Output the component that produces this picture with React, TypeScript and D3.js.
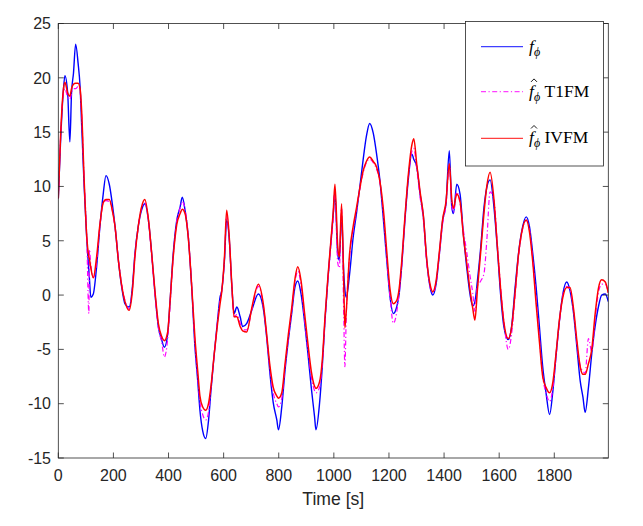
import React from "react";
import * as d3 from "d3";

const times = [0,8,18,24,34,42,48,55,63,72,79,85,94,103,111,113,118,127,139,151,163,173,185,196,206,218,230,242,257,269,278,290,302,314,327,339,351,363,375,385,397,405,417,430,442,450,460,472,484,496,506,514,524,535,545,554,566,578,587,593,603,611,620,630,638,648,660,669,684,702,726,745,757,768,780,793,799,811,823,835,847,859,869,881,893,906,918,930,935,948,958,968,978,986,998,1004,1014,1020,1028,1036,1040,1045,1057,1070,1082,1094,1106,1118,1130,1143,1155,1167,1180,1192,1204,1216,1228,1237,1246,1258,1270,1283,1290,1301,1313,1325,1337,1349,1359,1371,1383,1395,1407,1419,1428,1434,1446,1458,1470,1482,1494,1504,1512,1521,1533,1545,1555,1567,1581,1593,1605,1617,1633,1645,1658,1670,1682,1698,1710,1722,1734,1746,1758,1770,1783,1795,1807,1819,1831,1845,1857,1870,1882,1894,1904,1912,1924,1936,1948,1960,1972,1985,1996];

const fPhi = [8.9,14.0,18.7,20.2,18.6,14.1,18.6,20.4,23.1,21.3,19.2,15.5,9.9,5.3,2.2,1.5,-0.2,0.1,2.6,6.3,9.3,11.0,10.2,8.4,6.3,3.2,0.75,-0.8,-1.1,0.75,3.8,6.3,7.8,8.4,6.9,3.8,0.1,-2.9,-4.1,-4.8,-3.6,-0.8,3.8,6.9,8.1,9.0,7.8,5.3,0.75,-4.8,-7.9,-10.6,-12.5,-13.2,-11.6,-8.8,-5.4,-2.3,-0.2,0.4,3.2,6.9,5.3,0.75,-1.7,-1.1,-2.0,-2.9,-2.6,-1.4,0.1,-1.4,-4.1,-7.2,-9.9,-11.5,-12.4,-10.3,-6.9,-4.1,-1.7,0.75,1.3,0.1,-2.3,-5.4,-8.5,-11.2,-12.4,-10.0,-6.6,-2.3,1.3,3.8,7.5,9.5,3.8,3.2,7.5,2.0,0.5,-0.2,1.9,5.3,7.5,9.9,12.4,14.6,15.8,14.9,13.0,10.6,6.9,3.2,-0.2,-1.7,-1.1,0.1,2.6,6.9,10.6,13.0,12.5,11.8,9.3,7.2,3.2,0.75,0.0,1.0,3.8,6.9,8.4,13.3,8.1,7.5,10.2,9.3,5.6,2.6,0.1,-1.0,-0.6,1.3,4.4,8.1,9.9,10.6,8.1,4.4,0.1,-2.9,-4.1,-2.9,0.75,3.8,5.9,7.2,6.3,3.8,0.75,-2.9,-6.6,-9.0,-11.0,-8.8,-5.4,-2.3,0.1,1.2,0.4,-1.7,-4.8,-7.9,-9.4,-10.8,-8.5,-5.4,-2.9,-1.1,0.0,0.1,-0.6];

const ivfm = [8.9,14.5,18.8,19.6,18.6,18.3,19.0,19.4,19.5,19.5,19.0,16.8,10.5,5.5,3.5,3.3,2.5,1.6,3.5,6.5,8.5,8.8,8.8,7.8,6.3,3.2,0.9,-0.6,-1.4,0.4,3.5,6.3,8.1,8.8,7.0,3.8,0.3,-2.6,-3.8,-4.2,-3.4,-0.8,3.5,6.5,7.5,7.9,7.5,5.2,0.9,-4.0,-7.0,-9.3,-10.3,-10.6,-10.0,-8.4,-5.4,-2.6,-0.8,0.3,3.5,7.8,5.5,0.8,-2.0,-2.0,-2.9,-3.3,-3.4,-1.2,1.0,-1.0,-3.8,-6.5,-8.5,-9.3,-9.5,-9.0,-6.3,-3.6,-1.2,1.5,2.6,1.3,-1.5,-4.5,-7.0,-8.4,-8.6,-8.0,-6.0,-2.0,1.5,4.0,7.8,10.2,4.5,3.5,8.4,1.0,-3.0,-1.5,3.8,6.3,8.0,9.8,11.4,12.3,12.7,12.3,11.8,10.5,7.8,4.0,0.5,-0.8,-0.5,0.6,3.0,7.2,11.0,13.8,14.4,12.0,9.5,7.3,3.3,1.0,0.3,1.3,4.0,7.0,8.6,12.1,8.8,8.0,9.3,8.6,5.5,3.0,0.5,-1.2,-2.3,0.5,4.0,7.6,10.0,11.3,8.8,4.6,0.6,-2.5,-4.0,-3.0,0.3,3.7,5.8,6.9,5.8,3.0,-0.8,-4.3,-7.5,-8.5,-9.0,-8.0,-5.2,-2.2,-0.2,0.7,0.7,-1.3,-4.2,-6.6,-7.3,-7.3,-6.3,-5.0,-1.8,0.6,1.4,1.2,0.2];

const t1fm = [8.9,14.3,18.5,19.0,18.2,18.0,18.6,19.0,19.0,19.2,18.8,16.5,10.5,5.5,-1.7,4.2,2.8,1.6,3.0,6.3,8.5,8.7,8.6,7.8,6.2,3.4,1.0,-0.5,-1.3,0.6,3.6,6.2,8.0,8.5,6.8,3.5,0.0,-3.0,-4.3,-5.7,-4.0,-1.2,3.5,6.8,8.0,8.6,7.9,5.4,0.9,-4.5,-7.5,-9.8,-11.0,-11.5,-10.8,-8.6,-5.4,-2.4,-0.5,0.4,3.3,7.3,5.3,0.7,-2.0,-1.8,-2.6,-3.2,-3.2,-1.4,0.8,-1.2,-4.0,-6.8,-9.0,-10.0,-10.3,-9.5,-6.6,-4.0,-1.5,1.2,2.2,0.9,-2.0,-5.0,-7.5,-8.8,-9.0,-8.5,-6.3,-2.4,1.2,3.6,7.2,9.5,3.0,2.5,8.0,-2.0,-6.6,-2.0,3.5,6.0,7.8,9.7,11.2,12.2,12.5,12.2,11.6,10.4,7.4,3.5,-0.2,-2.6,-1.6,0.2,2.6,7.0,10.8,13.2,13.5,11.6,9.0,6.9,3.0,0.8,0.2,1.1,3.7,6.6,8.3,12.0,8.3,7.6,9.5,8.4,6.0,4.0,1.8,0.2,-1.5,0.8,1.3,2.0,5.0,9.5,8.8,4.8,0.8,-2.4,-5.0,-3.6,0.0,3.5,5.7,6.9,6.0,3.2,-0.4,-4.0,-7.5,-9.0,-9.8,-8.5,-5.5,-2.4,0.0,0.8,0.5,-1.5,-4.5,-6.5,-7.0,-7.2,-4.0,-5.2,-2.2,0.2,1.0,1.0,0.1];

const xTicks = [0, 200, 400, 600, 800, 1000, 1200, 1400, 1600, 1800];
const yTicks = [-15, -10, -5, 0, 5, 10, 15, 20, 25];
const xDomain = [0, 1996];
const yDomain = [-15, 25];
const xLabel = "Time [s]";

export default function App() {
  const left = 58.3, right = 608.3, top = 23.5, bottom = 458;
  const x = d3.scaleLinear().domain(xDomain).range([left, right]);
  const y = d3.scaleLinear().domain(yDomain).range([bottom, top]);
  const mk = (vals: number[]) =>
    d3.line<number>().x((_, i) => x(times[i])).y((d) => y(d)).curve(d3.curveMonotoneX)(vals) || "";
  const axisColor = "#262626";
  const tickFont = "'Liberation Sans', Arial, Helvetica, sans-serif";
  const serif = "'Liberation Serif', 'DejaVu Serif', serif";
  const legendRows = [
    { y: 46.7, color: "#0000ff", dash: undefined as string | undefined, hat: false, suffix: "" },
    { y: 91.7, color: "#ff00ff", dash: "5,2.5,1.2,2.5", hat: true, suffix: " T1FM" },
    { y: 138.3, color: "#ff0000", dash: undefined, hat: true, suffix: " IVFM" },
  ];
  return (
    <svg width={643} height={526} style={{ position: "absolute", left: 0, top: 0, background: "#fff" }}>
      <rect x={0} y={0} width={643} height={526} fill="#fff" />
      <defs>
        <clipPath id="plotclip">
          <rect x={left} y={top} width={right - left} height={bottom - top} />
        </clipPath>
      </defs>
      <g clipPath="url(#plotclip)" fill="none" strokeLinejoin="round">
        <path d={mk(fPhi)} stroke="#0000ff" strokeWidth={1.4} />
        <path d={mk(t1fm)} stroke="#ff00ff" strokeWidth={1.2} strokeDasharray="5,2.5,1.2,2.5" />
        <path d={mk(ivfm)} stroke="#ff0000" strokeWidth={1.5} />
      </g>
      <rect x={left} y={top} width={right - left} height={bottom - top} fill="none" stroke={axisColor} strokeWidth={0.8} />
      {xTicks.map((t) => (
        <g key={"xt" + t}>
          <line x1={x(t)} x2={x(t)} y1={bottom} y2={bottom - 5.5} stroke={axisColor} strokeWidth={0.8} />
          <line x1={x(t)} x2={x(t)} y1={top} y2={top + 5.5} stroke={axisColor} strokeWidth={0.8} />
          <text x={x(t)} y={481} textAnchor="middle" fontFamily={tickFont} fontSize={16} fill={axisColor}>{t}</text>
        </g>
      ))}
      {yTicks.map((v) => (
        <g key={"yt" + v}>
          <line x1={left} x2={left + 5.5} y1={y(v)} y2={y(v)} stroke={axisColor} strokeWidth={0.8} />
          <line x1={right} x2={right - 5.5} y1={y(v)} y2={y(v)} stroke={axisColor} strokeWidth={0.8} />
          <text x={51} y={y(v)} dy="0.36em" textAnchor="end" fontFamily={tickFont} fontSize={16} fill={axisColor}>{v}</text>
        </g>
      ))}
      <text x={(left + right) / 2} y={505} textAnchor="middle" fontFamily={tickFont} fontSize={17.6} fill={axisColor}>{xLabel}</text>
      <rect x={465.5} y={21.5} width={138} height={144.5} fill="#fff" stroke={axisColor} strokeWidth={0.8} />
      {legendRows.map((r, i) => (
        <g key={"lg" + i}>
          <line x1={481} x2={523} y1={r.y} y2={r.y} stroke={r.color} strokeWidth={1.2} strokeDasharray={r.dash} opacity={0.75} />
          {r.hat && (
            <path d={`M ${531} ${r.y - 9.8} L ${534} ${r.y - 12.8} L ${537} ${r.y - 9.8}`} fill="none" stroke="#000" strokeWidth={0.9} />
          )}
          <text x={529} y={r.y + 5} fontFamily={serif} fontSize={17.5} fill="#000">
            <tspan fontStyle="italic">f</tspan>
            <tspan fontStyle="italic" fontSize={12} dy={4}>ϕ</tspan>
            <tspan dy={-4}>{r.suffix}</tspan>
          </text>
        </g>
      ))}
    </svg>
  );
}
